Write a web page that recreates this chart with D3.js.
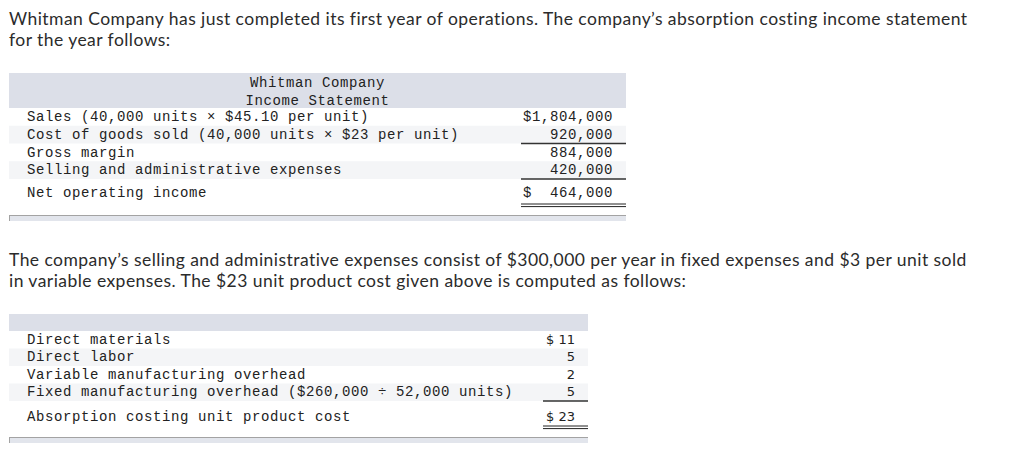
<!DOCTYPE html>
<html>
<head>
<meta charset="utf-8">
<script src="https://cdn.jsdelivr.net/npm/d3@7"></script>
<style>
  body { margin: 0; background: #fff; }
  svg { display: block; }
  .intro { font-family: Lato, "Open Sans", sans-serif; font-size: 17.5px; letter-spacing: 0.45px; fill: #2b2b2b; font-variant-ligatures: none; }
  .mono { font-family: "Liberation Mono", "Courier New", monospace; font-size: 14px; letter-spacing: 0.6px; fill: #222; white-space: pre; }
  .sans { font-family: "DejaVu Sans", Verdana, sans-serif; font-size: 13px; fill: #222; white-space: pre; }
</style>
</head>
<body>
<div id="chart"></div>
<script>
  const introTop = [
    'Whitman Company has just completed its first year of operations. The company\u2019s absorption costing income statement',
    'for the year follows:'
  ];
  const introMid = [
    'The company\u2019s selling and administrative expenses consist of $300,000 per year in fixed expenses and $3 per unit sold',
    'in variable expenses. The $23 unit product cost given above is computed as follows:'
  ];

  const stmtTitle = ['Whitman Company', 'Income Statement'];
  const stmtLabels = [
    'Sales (40,000 units \u00d7 $45.10 per unit)',
    'Cost of goods sold (40,000 units \u00d7 $23 per unit)',
    'Gross margin',
    'Selling and administrative expenses',
    'Net operating income'
  ];
  const stmtValues = [1804000, 920000, 884000, 420000, 464000];
  const stmtDollar = [true, false, false, false, true];
  const stmtRule = ['none', 'single', 'none', 'single', 'double'];

  const costLabels = [
    'Direct materials',
    'Direct labor',
    'Variable manufacturing overhead',
    'Fixed manufacturing overhead ($260,000 \u00f7 52,000 units)',
    'Absorption costing unit product cost'
  ];
  const costValues = [11, 5, 2, 5, 23];
  const costDollar = [true, false, false, false, true];
  const costRule = ['none', 'none', 'none', 'single', 'double'];

  const W = 1024, H = 456;
  const headColor = '#dcdfe8', stripe = '#f4f5f7', footColor = '#e2e5ec';

  const svg = d3.select('#chart').append('svg')
    .attr('width', W)
    .attr('height', H);

  // paragraphs
  function paragraph(lines, y0) {
    svg.selectAll(null)
      .data(lines)
      .enter()
      .append('text')
      .attr('class', 'intro')
      .attr('x', 9)
      .attr('y', (d, i) => y0 + i * 21)
      .text(d => d);
  }
  paragraph(introTop, 25);
  paragraph(introMid, 266);

  const fmt = d3.format(',');

  function table(opts) {
    const n = opts.labels.length;
    const g = svg.append('g');

    // header band
    g.append('rect')
      .attr('x', opts.left).attr('y', opts.headTop)
      .attr('width', opts.right - opts.left)
      .attr('height', opts.rowTop - opts.headTop)
      .attr('fill', headColor);

    const y = d3.scaleBand()
      .domain(d3.range(n))
      .range([opts.rowTop, opts.rowTop + n * opts.step])
      .paddingInner(0);

    // striped rows (total row stays white)
    g.selectAll('.stripe')
      .data(d3.range(n - 1).filter(i => i % 2 === 1))
      .enter()
      .append('rect')
      .attr('class', 'stripe')
      .attr('x', opts.left)
      .attr('y', i => y(i))
      .attr('width', opts.right - opts.left)
      .attr('height', y.bandwidth())
      .attr('fill', stripe);

    const baseline = i => y(i) + opts.base + (i === n - 1 ? opts.totalShift : 0);

    // title lines
    g.selectAll('.title')
      .data(opts.title || [])
      .enter()
      .append('text')
      .attr('class', 'mono')
      .attr('x', (opts.left + opts.right) / 2)
      .attr('y', (d, i) => opts.headTop + 14 + i * 17.5)
      .attr('text-anchor', 'middle')
      .text(d => d);

    // labels
    g.selectAll('.label')
      .data(opts.labels)
      .enter()
      .append('text')
      .attr('class', 'mono')
      .attr('x', opts.left + 18)
      .attr('y', (d, i) => baseline(i))
      .text(d => d);

    // values
    g.selectAll('.value')
      .data(opts.values)
      .enter()
      .append('text')
      .attr('class', opts.valueClass)
      .attr('x', opts.valueX)
      .attr('y', (d, i) => baseline(i))
      .attr('text-anchor', 'end')
      .text((d, i) => opts.valueText(d, opts.dollar[i]));

    // rules under values
    opts.rules.forEach((r, i) => {
      if (r === 'single') {
        const ry = y(i) + y.bandwidth();
        g.append('line')
          .attr('x1', opts.ruleX).attr('x2', opts.right)
          .attr('y1', ry).attr('y2', ry)
          .attr('stroke', '#333').attr('stroke-width', 1.4);
      } else if (r === 'double') {
        [0, 2.6].forEach(off => {
          g.append('line')
            .attr('x1', opts.ruleX).attr('x2', opts.right)
            .attr('y1', opts.doubleY + off).attr('y2', opts.doubleY + off)
            .attr('stroke', '#222').attr('stroke-width', 1);
        });
      }
    });

    // footer band
    g.append('rect')
      .attr('x', opts.left).attr('y', opts.footTop)
      .attr('width', opts.right - opts.left)
      .attr('height', 6)
      .attr('fill', footColor);
    g.append('line')
      .attr('x1', opts.left).attr('x2', opts.right)
      .attr('y1', opts.footTop + 0.5).attr('y2', opts.footTop + 0.5)
      .attr('stroke', '#a3a3a3').attr('stroke-width', 1);
    g.append('line')
      .attr('x1', opts.left + 0.5).attr('x2', opts.left + 0.5)
      .attr('y1', opts.footTop).attr('y2', opts.footTop + 6)
      .attr('stroke', '#a3a3a3').attr('stroke-width', 1);
  }

  table({
    labels: stmtLabels, values: stmtValues, dollar: stmtDollar, rules: stmtRule,
    title: stmtTitle,
    left: 9, right: 626, headTop: 73, rowTop: 108, step: 17.75, base: 13, totalShift: 5,
    valueX: 613, ruleX: 521, doubleY: 204, footTop: 215,
    valueClass: 'mono',
    valueText: (d, s) => s ? '$' + fmt(d).padStart(9) : fmt(d)
  });

  table({
    labels: costLabels, values: costValues, dollar: costDollar, rules: costRule,
    left: 9, right: 588, headTop: 314, rowTop: 331, step: 17.5, base: 12.5, totalShift: 7.5,
    valueX: 575, ruleX: 543, doubleY: 426, footTop: 437,
    valueClass: 'sans',
    valueText: (d, s) => s ? '$ ' + d : String(d)
  });
</script>
</body>
</html>
